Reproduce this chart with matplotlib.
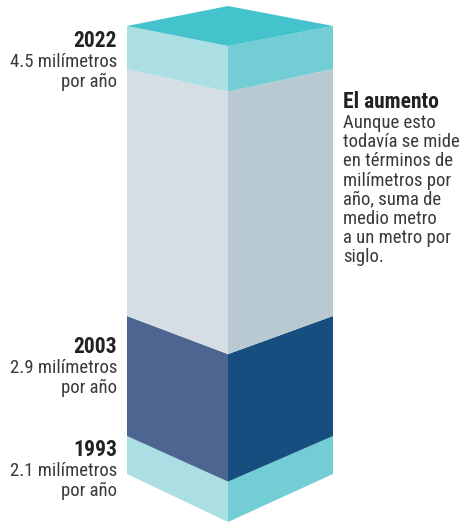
import matplotlib.pyplot as plt
from matplotlib.patches import Polygon

# segments from bottom to top
segments = ['1993', '2003', 'gris', '2022']
seg_heights = [38, 120, 247, 43]
left_colors = ['#acdfe3', '#4c6591', '#d6dee5', '#acdfe3']
right_colors = ['#72cdd5', '#164e80', '#b8c9d1', '#72cdd5']
top_color = '#45c3cd'

years = ['1993', '2003', '2022']
rates = ['2.1 milímetros', '2.9 milímetros', '4.5 milímetros']
note_title = 'El aumento'
note_lines = ['Aunque esto', 'todavía se mide', 'en términos de',
              'milímetros por', 'año, suma de', 'medio metro',
              'a un metro por', 'siglo.']

# layout
x_left, x_mid, x_right = 127, 228, 333
base = 474
label_y = [450, 347, 41]
font = ['Roboto Condensed', 'Fira Sans Condensed', 'Asap Condensed',
        'Archivo Narrow', 'DejaVu Sans']


def drop(y):
    # vertical offset of the front edge, grows towards the bottom
    return 20 + (y - 26) * 0.0625


fig = plt.figure(figsize=(4.66, 5.22), dpi=100)
ax = fig.add_axes([0, 0, 1, 1])
ax.set_xlim(0, 466)
ax.set_ylim(522, 0)
ax.axis('off')

y_bot = base
for h, lc, rc in zip(seg_heights, left_colors, right_colors):
    y_top = y_bot - h
    ax.add_patch(Polygon([(x_left, y_top), (x_mid, y_top + drop(y_top)),
                          (x_mid, y_bot + drop(y_bot)), (x_left, y_bot)],
                         closed=True, fc=lc, ec='none'))
    ax.add_patch(Polygon([(x_mid, y_top + drop(y_top)), (x_right, y_top),
                          (x_right, y_bot), (x_mid, y_bot + drop(y_bot))],
                         closed=True, fc=rc, ec='none'))
    y_bot = y_top

top = y_bot
ax.add_patch(Polygon([(x_left, top), (x_mid, top - drop(top)),
                      (x_right, top), (x_mid, top + drop(top))],
                     closed=True, fc=top_color, ec='none'))

for yr, rate, ly in zip(years, rates, label_y):
    ax.text(117, ly, yr, ha='right', va='center', fontsize=15.5,
            fontweight='bold', color='#222222', family=font)
    ax.text(117, ly + 21, rate, ha='right', va='center', fontsize=13.5,
            color='#3a3a3a', family=font)
    ax.text(117, ly + 41, 'por año', ha='right', va='center', fontsize=13.5,
            color='#3a3a3a', family=font)

ax.text(343, 102, note_title, ha='left', va='center', fontsize=15.5,
        fontweight='bold', color='#222222', family=font)
for i, line in enumerate(note_lines):
    ax.text(343, 123 + i * 19.2, line, ha='left', va='center', fontsize=13.5,
            color='#3a3a3a', family=font)

fig.savefig('out.png', dpi=100)
